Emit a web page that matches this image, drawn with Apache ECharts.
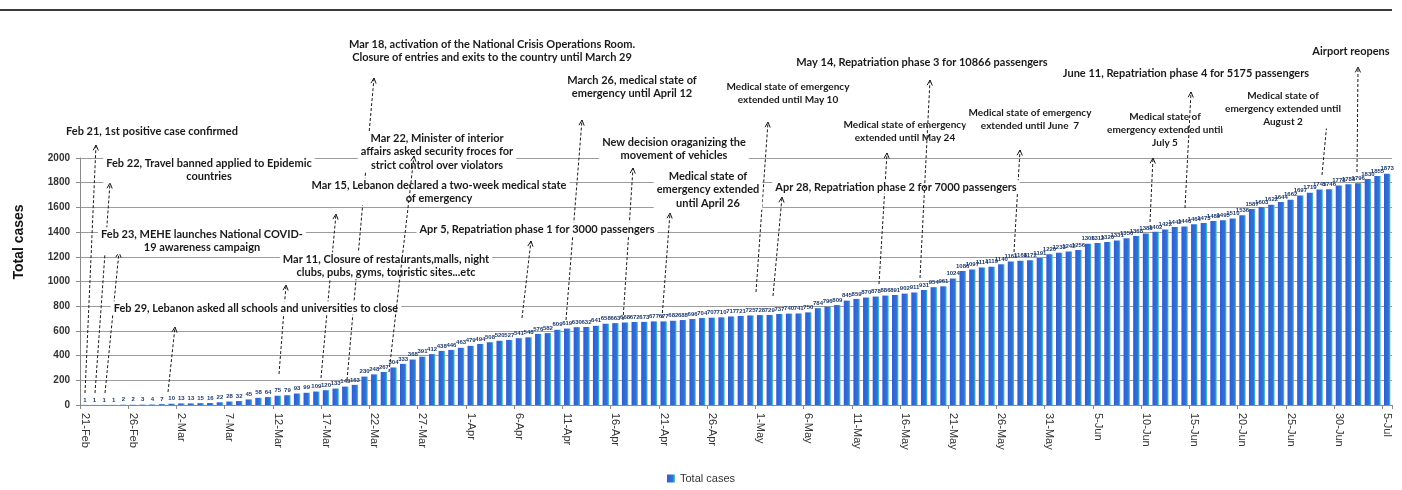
<!DOCTYPE html>
<html><head><meta charset="utf-8">
<script src="https://cdn.jsdelivr.net/npm/echarts@6/dist/echarts.min.js"></script>
<style>html,body{margin:0;padding:0;background:#fff}#c{width:1402px;height:490px}</style>
</head><body><div id="c"></div>
<script>
// ---------- data ----------
const monthNames = ['Jan','Feb','Mar','Apr','May','Jun','Jul'];
const categories = [];
for (let d = new Date(Date.UTC(2020,1,21)); d.getTime() <= Date.UTC(2020,6,5); d.setUTCDate(d.getUTCDate()+1)) {
  categories.push(d.getUTCDate() + '-' + monthNames[d.getUTCMonth()]);
}
const febCases = [1,1,1,1,2,2,3,4,7];
const marCases = [10,13,13,15,16,22,28,32,45,58,64,75,79,93,99,109,120,133,149,163,230,248,267,304,333,368,391,412,438,446,463];
const aprCases = [479,494,508,520,527,541,548,576,582,609,619,630,632,641,658,663,668,672,673,677,677,682,688,696,704,707,710,717,721,725];
const mayCases = [728,729,737,740,741,750,784,796,809,845,859,870,878,886,891,902,911,931,954,961,1024,1086,1097,1114,1119,1140,1161,1168,1172,1191,1220];
const junCases = [1233,1242,1256,1306,1312,1320,1331,1350,1368,1388,1402,1422,1442,1446,1464,1473,1489,1495,1510,1536,1587,1603,1622,1644,1662,1697,1719,1745,1746,1778];
const julCases = [1788,1796,1830,1855,1873];
const totalCases = [].concat(febCases, marCases, aprCases, mayCases, junCases, julCases);
const seriesName = 'Total cases';
const yAxisTitle = 'Total cases';

const annotationTexts = [
  'Feb 21, 1st positive case confirmed',
  'Feb 22, Travel banned applied to Epidemic\ncountries',
  'Feb 23, MEHE launches National COVID-\n19 awareness campaign',
  'Feb 29, Lebanon asked all schools and universities to close',
  'Mar 11, Closure of restaurants,malls, night\nclubs, pubs, gyms, touristic sites...etc',
  'Mar 15, Lebanon declared a two-week medical state\nof emergency',
  'Mar 18, activation of the National Crisis Operations Room.\nClosure of entries and exits to the country until March 29',
  'Mar 22, Minister of interior\naffairs asked security froces for\nstrict control over violators',
  'March 26, medical state of\nemergency until April 12',
  'New decision oraganizing the\nmovement of vehicles',
  'Medical state of\nemergency extended\nuntil April 26',
  'Apr 5, Repatriation phase 1 for 3000 passengers',
  'Medical state of emergency\nextended until May 10',
  'May 14, Repatriation phase 3 for 10866 passengers',
  'Medical state of emergency\nextended until May 24',
  'Apr 28, Repatriation phase 2 for 7000 passengers',
  'Medical state of emergency\nextended until June  7',
  'June 11, Repatriation phase 4 for 5175 passengers',
  'Medical state of\nemergency extended until\nJuly 5',
  'Medical state of\nemergency extended until\nAugust 2',
  'Airport reopens'
];

// ---------- layout (pixels) for annotations: text centre x, first line centre y, arrow head, arrow foot, arrow drawn over text ----------
const annotationLayout = [
  {cx:152, cy:131, hx:96,  hy:145, bx:85,  by:393},
  {cx:209, cy:163, hx:110, hy:183, bx:95,  by:393},
  {cx:202, cy:234, hx:119, hy:252, bx:105, by:393},
  {cx:256, cy:308, hx:175, hy:327, bx:168, by:392},
  {cx:386, cy:259, hx:286, hy:285, bx:279, by:374},
  {cx:439, cy:185, hx:336, hy:214, bx:321, by:378},
  {cx:492, cy:44,  hx:374, hy:78,  bx:347, by:380},
  {cx:437, cy:138, hx:414, hy:156, bx:389, by:372, over:true},
  {cx:632, cy:80,  hx:582, hy:120, bx:566, by:320},
  {cx:674, cy:142, hx:633, hy:168, bx:623, by:320},
  {cx:708, cy:176, hx:670, hy:213, bx:662, by:318},
  {cx:537, cy:229, hx:531, hy:241, bx:522, by:318},
  {cx:788, cy:87,  hx:768, hy:122, bx:756, by:292, small:true},
  {cx:922, cy:62,  hx:930, hy:80,  bx:920, by:278, over:true},
  {cx:905, cy:125, hx:887, hy:153, bx:879, by:284, small:true},
  {cx:896, cy:187, hx:782, hy:197, bx:773, by:296},
  {cx:1030,cy:113, hx:1020,hy:150, bx:1014,by:252, small:true},
  {cx:1186,cy:73,  hx:1191,hy:92,  bx:1185,by:208, over:true},
  {cx:1165,cy:117, hx:1153,hy:158, bx:1150,by:222, small:true},
  {cx:1283,cy:96,  hx:1327,hy:122, bx:1322,by:175, small:true},
  {cx:1351,cy:51,  hx:1358,hy:67,  bx:1357,by:172}
];

const annFont = "Lato,'Liberation Sans',Arial,sans-serif";
const baseFont = "'Liberation Sans',Arial,sans-serif";
const graphics = [];
graphics.push({type:'rect', shape:{x:0, y:9, width:1392, height:2}, style:{fill:'#3a3a3a'}, z:100});
graphics.push({type:'text', x:19, y:242, rotation:Math.PI/2, style:{text:yAxisTitle, fill:'#111', font:"bold 14px " + baseFont, align:'center', verticalAlign:'middle'}, z:100});

annotationTexts.forEach((t, i) => {
  const L = annotationLayout[i];
  const lh = L.small ? 13 : 13.5;
  const dx = L.hx - L.bx, dy = L.hy - L.by, len = Math.hypot(dx, dy);
  const ux = dx/len, uy = dy/len, a = 0.45, w = 6;
  const rot = (ang) => [L.hx - w*(ux*Math.cos(ang) - uy*Math.sin(ang)), L.hy - w*(ux*Math.sin(ang) + uy*Math.cos(ang))];
  const zArrow = L.over ? 70 : 50;
  graphics.push({type:'line', shape:{x1:L.bx, y1:L.by, x2:L.hx, y2:L.hy}, style:{stroke:'#1a1a1a', lineWidth:1, lineDash:[3,2]}, z:zArrow, silent:true});
  graphics.push({type:'polyline', shape:{points:[rot(a), [L.hx, L.hy], rot(-a)]}, style:{stroke:'#1a1a1a', lineWidth:1, fill:null}, z:zArrow, silent:true});
  graphics.push({type:'text', x:L.cx, y:L.cy - lh/2, style:{
    text:t, fill:'#1a1a1a', align:'center', verticalAlign:'top', lineHeight:lh,
    font: (L.small ? "bold 10px " : "bold 11px ") + annFont,
    backgroundColor:'#fff', padding:[0,3]
  }, z:60, silent:true});
});

const chart = echarts.init(document.getElementById('c'), null, {renderer:'canvas'});
chart.setOption({
  animation:false,
  backgroundColor:'#fff',
  grid:{left:80, right:10, top:158, bottom:85, containLabel:false},
  legend:{data:[seriesName], bottom:1, left:'center', icon:'rect', itemWidth:8, itemHeight:8, itemGap:5,
    textStyle:{fontSize:11, color:'#333', fontFamily:baseFont}},
  xAxis:{type:'category', data:categories, boundaryGap:true,
    axisLine:{lineStyle:{color:'#8a8a8a'}},
    axisTick:{show:true, interval:4, length:4, lineStyle:{color:'#8a8a8a'}},
    axisLabel:{interval:4, rotate:-90, fontSize:11, color:'#333', margin:8, fontFamily:baseFont}},
  yAxis:{type:'value', min:0, max:2000, interval:200,
    axisLine:{show:true, lineStyle:{color:'#8a8a8a'}},
    axisTick:{show:true, length:4, lineStyle:{color:'#8a8a8a'}},
    axisLabel:{fontSize:10, fontWeight:'bold', color:'#333', margin:10, fontFamily:baseFont, formatter:(v) => String(v)},
    splitLine:{lineStyle:{color:'#9c9c9c', width:1}}},
  series:[{
    name:seriesName, type:'bar', data:totalCases, barWidth:'66%',
    itemStyle:{color:new echarts.graphic.LinearGradient(0,0,1,0,[
      {offset:0, color:'#3a5cc4'},{offset:0.72, color:'#2f72d8'},{offset:1, color:'#3fd0dc'}])},
    label:{show:true, position:'top', distance:2, fontSize:6, fontWeight:'bold', color:'#1f3a6e', fontFamily:baseFont}
  }],
  graphic:{elements:graphics}
});
</script></body></html>
